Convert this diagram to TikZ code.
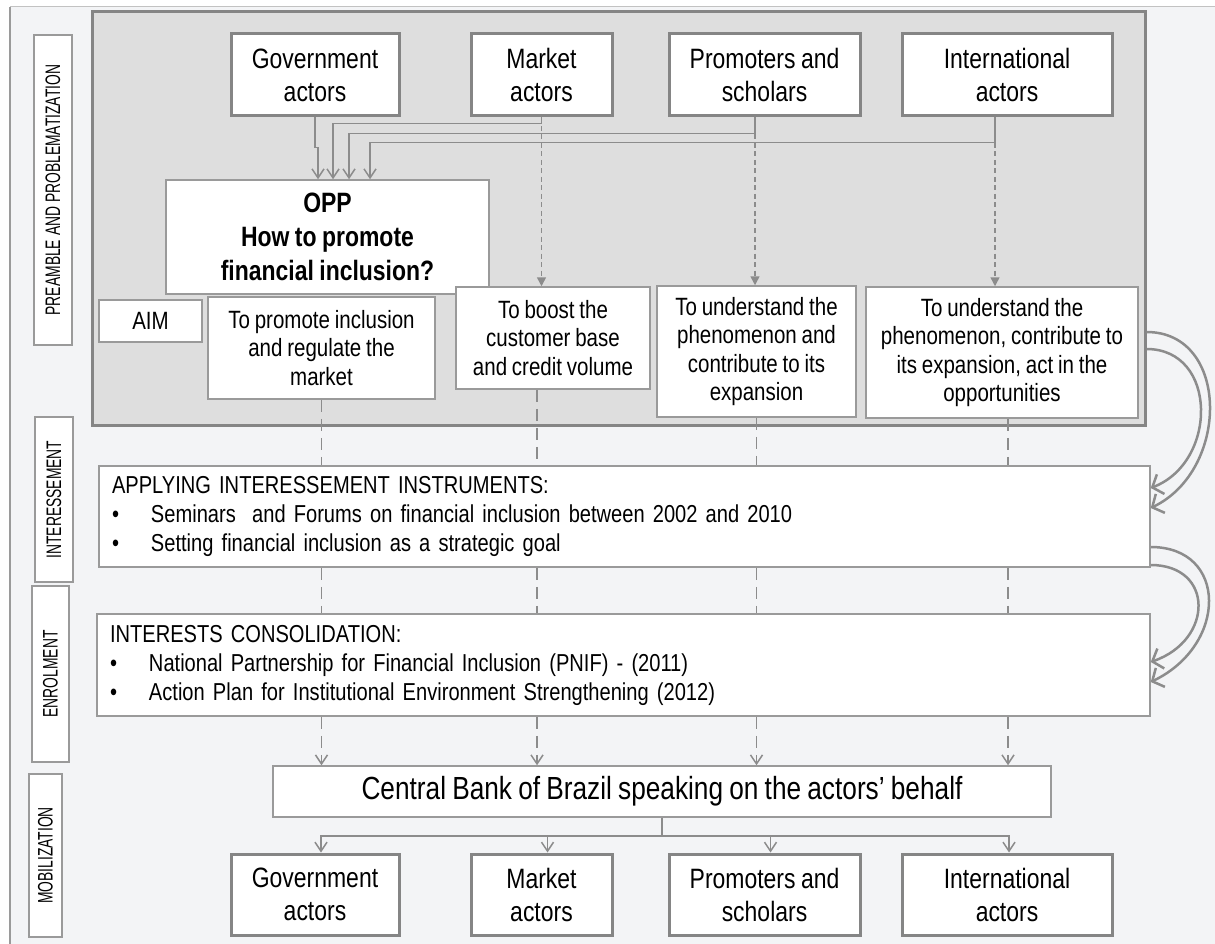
\documentclass[tikz,border=0pt]{standalone}
\usepackage{fontspec}
\setmainfont{Liberation Sans}[FakeStretch=0.82, WordSpace=0.85]
\newfontfamily\phasefont{Liberation Sans}[FakeStretch=0.66]
\usepackage{tikz}
\usetikzlibrary{arrows.meta}
\usepackage{xcolor}
\definecolor{pagebg}{HTML}{F3F4F6}
\definecolor{panelbg}{HTML}{DEDEDE}
\definecolor{edgegray}{HTML}{858585}
\definecolor{boxgray}{HTML}{9A9A9A}
\definecolor{linegray}{HTML}{8C8C8C}

\begin{document}
\begin{tikzpicture}[x=1pt, y=-1pt,
    actorbox/.style={rectangle, draw=edgegray, line width=3pt, fill=white,
      minimum width=#1, minimum height=82pt, inner sep=0pt, align=center,
      font=\fontsize{28}{33}\selectfont},
    aimbox/.style={rectangle, draw=boxgray, line width=1.5pt, fill=white,
      inner sep=0pt, align=center, font=\fontsize{25}{28.5}\selectfont},
    labelbox/.style={rectangle, draw=boxgray, line width=1.5pt, fill=white,
      rotate=90, inner sep=0pt, font=\phasefont\fontsize{21}{24}\selectfont},
    stagebox/.style={rectangle, draw=boxgray, line width=1.5pt, fill=white,
      text width=1025pt, inner xsep=13pt, inner ysep=0pt, align=left,
      font=\fontsize{24.5}{29}\selectfont},
    linkline/.style={draw=linegray, line width=1.5pt},
    opentip/.style={-{Straight Barb[length=9pt,width=12pt]}},
    filltip/.style={-{Triangle[length=9pt,width=9pt]}},
    fineDash/.style={dash pattern=on 5pt off 3.5pt},
    longDash/.style={dash pattern=on 12pt off 7pt},
    loopline/.style={draw=linegray, line width=2.5pt,
      -{Straight Barb[length=9pt,width=21pt]}}
  ]

  % Background and frame
  \useasboundingbox (0,0) rectangle (1215,944);
  \fill[white] (0,0) rectangle (1215,944);
  \fill[pagebg] (10,7) rectangle (1215,944);
  \draw[boxgray!60, line width=1pt] (10,7) -- (1215,7);
  \draw[boxgray, line width=2pt] (10,944) -- (10,7);

  % Problematization panel
  \node[draw=edgegray, line width=3pt, fill=panelbg, minimum width=1053pt,
    minimum height=413pt, inner sep=0pt] (panel) at (618.5,218.5) {};

  % Phase labels
  \node[labelbox, minimum width=310pt, minimum height=38pt] (lpre) at (53,190) {PREAMBLE AND PROBLEMATIZATION};
  \node[labelbox, minimum width=165pt, minimum height=38pt] (lint) at (54,499.5) {INTERESSEMENT};
  \node[labelbox, minimum width=176pt, minimum height=37pt] (lenr) at (50.5,674) {ENROLMENT};
  \node[labelbox, minimum width=163pt, minimum height=33pt] (lmob) at (45.5,855.5) {MOBILIZATION};

  % Actors
  \node[actorbox=168pt] (gov)  at (315,75)    {Government\\actors};
  \node[actorbox=141pt] (mkt)  at (541.5,75)  {Market\\actors};
  \node[actorbox=191pt] (prom) at (764.5,75)  {Promoters and\\scholars};
  \node[actorbox=210pt] (intl) at (1007,75)   {International\\actors};

  % OPP
  \node[aimbox, minimum width=323pt, minimum height=114pt,
    font=\fontsize{28}{34}\selectfont\bfseries] (opp) at (327.5,237)
    {OPP\\How to promote\\financial inclusion?};

  % Aims
  \node[aimbox, minimum width=103pt, minimum height=42pt] (aim) at (150.5,321) {AIM};
  \node[aimbox, minimum width=227pt, minimum height=102pt] (promote) at (321.5,348)
    {To promote inclusion\\and regulate the\\market};
  \node[aimbox, minimum width=194pt, minimum height=102pt] (boost) at (553,338)
    {To boost the\\customer base\\and credit volume};
  \node[aimbox, minimum width=199pt, minimum height=131pt] (und1) at (756.5,351.5)
    {To understand the\\phenomenon and\\contribute to its\\expansion};
  \node[aimbox, minimum width=272pt, minimum height=131pt] (und2) at (1002,352.5)
    {To understand the\\phenomenon, contribute to\\its expansion, act in the\\opportunities};

  % Actors to OPP
  \draw[linkline, opentip] (gov.south) -- ++(0,30) -| ([xshift=-9.5pt]opp.north);
  \draw[linkline, opentip] (mkt.south) -- ++(0,6) -| ([xshift=5.5pt]opp.north);
  \draw[linkline, opentip] ([xshift=-9.5pt]prom.south) -- ++(0,16) -| ([xshift=21.5pt]opp.north);
  \draw[linkline, opentip] ([xshift=-12pt]intl.south) -- ++(0,25) -| ([xshift=42.5pt]opp.north);

  % Actors to aims
  \draw[linkline, fineDash, filltip] (mkt.south) -- (mkt.south |- boost.north);
  \draw[linkline, fineDash, filltip] ([xshift=-9.5pt]prom.south) -- ([xshift=-9.5pt]prom.south |- und1.north);
  \draw[linkline, fineDash, filltip] ([xshift=-12pt]intl.south) -- ([xshift=-12pt]intl.south |- und2.north);

  % Interessement and enrolment
  \node[stagebox, minimum height=101pt] (inter) at (624.5,516.5)
    {APPLYING INTERESSEMENT INSTRUMENTS:\\
     \makebox[39pt][l]{•}Seminars~ and Forums on financial inclusion between 2002 and 2010\\
     \makebox[39pt][l]{•}Setting financial inclusion as a strategic goal};
  \node[stagebox, text width=1027pt, minimum height=102pt] (enrol) at (623.5,665)
    {INTERESTS CONSOLIDATION:\\
     \makebox[39pt][l]{•}National Partnership for Financial Inclusion (PNIF) - (2011)\\
     \makebox[39pt][l]{•}Action Plan for Institutional Environment Strengthening (2012)};

  % Central Bank
  \node[aimbox, minimum width=778pt, minimum height=51pt,
    font=\fontsize{32}{38}\selectfont] (cbank) at (662,791.5)
    {Central Bank of Brazil speaking on the actors’ behalf};

  % Mobilized actors
  \node[actorbox=168pt, minimum height=81pt] (gov2)  at (315,894.5)   {Government\\actors};
  \node[actorbox=141pt, minimum height=81pt] (mkt2)  at (541.5,894.5) {Market\\actors};
  \node[actorbox=191pt, minimum height=81pt] (prom2) at (764.5,894.5) {Promoters and\\scholars};
  \node[actorbox=210pt, minimum height=81pt] (intl2) at (1007,894.5)  {International\\actors};

  % Dashed flow through the stages
  \coordinate (f1) at (promote.south);
  \coordinate (f2) at ([xshift=-16pt]boost.south);
  \coordinate (f3) at (und1.south);
  \coordinate (f4) at ([xshift=6pt]und2.south);
  \draw[linkline, longDash] (f1) -- (f1 |- inter.north);
  \draw[linkline, longDash] (f2) -- (f2 |- inter.north);
  \draw[linkline, longDash] (f3) -- (f3 |- inter.north);
  \draw[linkline, longDash] (f4) -- (f4 |- inter.north);
  \draw[linkline, longDash] (f1 |- inter.south) -- (f1 |- enrol.north);
  \draw[linkline, longDash] (f2 |- inter.south) -- (f2 |- enrol.north);
  \draw[linkline, longDash] (f3 |- inter.south) -- (f3 |- enrol.north);
  \draw[linkline, longDash] (f4 |- inter.south) -- (f4 |- enrol.north);
  \draw[linkline, longDash, opentip] (f1 |- enrol.south) -- (f1 |- cbank.north);
  \draw[linkline, longDash, opentip] (f2 |- enrol.south) -- (f2 |- cbank.north);
  \draw[linkline, longDash, opentip] (f3 |- enrol.south) -- (f3 |- cbank.north);
  \draw[linkline, longDash, opentip] (f4 |- enrol.south) -- (f4 |- cbank.north);

  % Central Bank to actors
  \draw[linkline] (cbank.south) -- ++(0,18) coordinate (split);
  \draw[linkline, opentip] (split) -| ([xshift=6pt]gov2.north);
  \draw[linkline, opentip] (split) -| ([xshift=6pt]mkt2.north);
  \draw[linkline, opentip] (split) -| ([xshift=6pt]prom2.north);
  \draw[linkline, opentip] (split) -| ([xshift=2pt]intl2.north);

  % Curved transitions
  \draw[loopline] (panel.east |- 0,332) .. controls (1230,332) and (1230,470) .. (inter.east |- 0,508);
  \draw[loopline] (panel.east |- 0,349) .. controls (1218,349) and (1218,462) .. (inter.east |- 0,488);
  \draw[loopline] (inter.east |- 0,547) .. controls (1228,547) and (1228,645) .. (enrol.east |- 0,682);
  \draw[loopline] (inter.east |- 0,565) .. controls (1214,565) and (1214,640) .. (enrol.east |- 0,662);

\end{tikzpicture}
\end{document}
